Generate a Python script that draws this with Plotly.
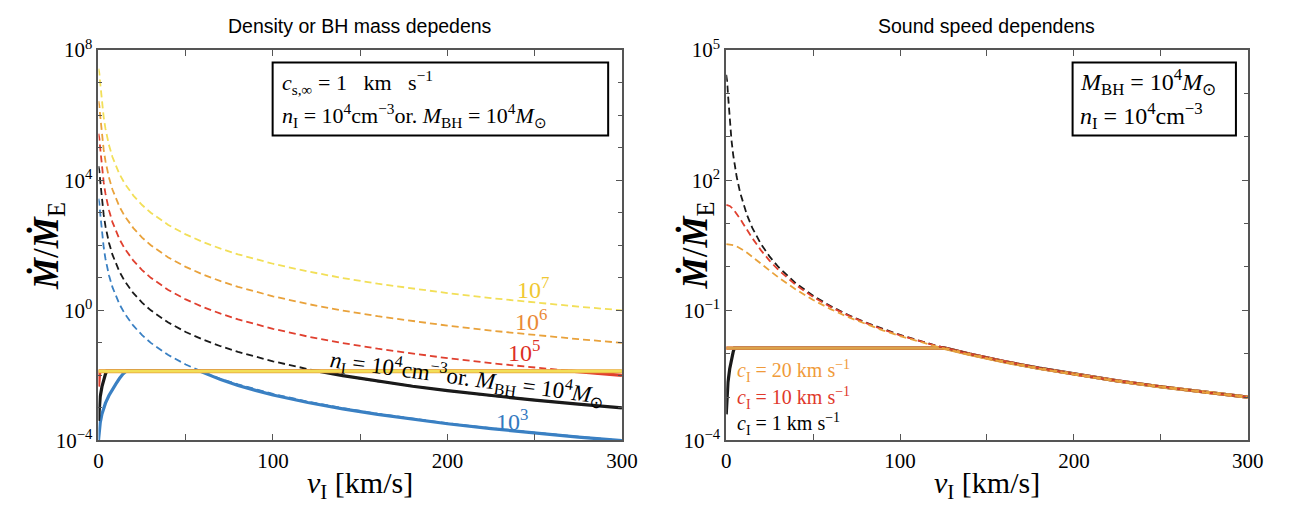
import plotly.graph_objects as go

W, H = 1309, 517

# ---------------- data: left panel (c_s,inf = 1 km/s, varying n_I or M_BH) ----------------
v_dash = [0, 0.5, 1, 1.5, 2, 3, 4, 5, 6, 8, 10, 12, 15, 20, 25, 30, 40, 50, 60, 70, 80, 90,
          100, 120, 140, 160, 180, 200, 225, 250, 275, 300]

bondi_1e7 = [2.7e7, 1.93e7, 9.55e6, 4.61e6, 2.415e6, 8.54e5, 3.85e5, 2.04e5, 1.20e5, 5.15e4,
             2.66e4, 1.546e4, 7.95e3, 3.36e3, 1.724e3, 998, 422, 216, 125, 78.7, 52.7, 37.0,
             27.0, 15.6, 9.84, 6.59, 4.63, 3.375, 2.37, 1.728, 1.298, 1.0]
bondi_1e6 = [2.7e6, 1.93e6, 9.55e5, 4.61e5, 2.415e5, 8.54e4, 3.85e4, 2.04e4, 1.20e4, 5.15e3,
             2.66e3, 1.546e3, 795, 336, 172.4, 99.8, 42.2, 21.6, 12.5, 7.87, 5.27, 3.70,
             2.70, 1.56, 0.984, 0.659, 0.463, 0.3375, 0.237, 0.1728, 0.1298, 0.10]
bondi_1e5 = [2.7e5, 1.93e5, 9.55e4, 4.61e4, 2.415e4, 8.54e3, 3.85e3, 2.04e3, 1.20e3, 515,
             266, 154.6, 79.5, 33.6, 17.24, 9.98, 4.22, 2.16, 1.25, 0.787, 0.527, 0.370,
             0.270, 0.156, 0.0984, 0.0659, 0.0463, 0.03375, 0.0237, 0.01728, 0.01298, 0.010]
bondi_1e4 = [2.7e4, 1.93e4, 9.55e3, 4.61e3, 2.415e3, 854, 385, 204, 120, 51.5,
             26.6, 15.46, 7.95, 3.36, 1.724, 0.998, 0.422, 0.216, 0.125, 0.0787, 0.0527, 0.0370,
             0.0270, 0.0156, 0.00984, 0.00659, 0.00463, 0.003375, 0.00237, 0.001728, 0.001298, 0.0010]
bondi_1e3 = [2.7e3, 1.93e3, 955, 461, 241.5, 85.4, 38.5, 20.4, 12.0, 5.15,
             2.66, 1.546, 0.795, 0.336, 0.1724, 0.0998, 0.0422, 0.0216, 0.0125, 0.00787, 0.00527,
             0.00370, 0.00270, 0.00156, 9.84e-4, 6.59e-4, 4.63e-4, 3.375e-4, 2.37e-4, 1.728e-4,
             1.298e-4, 1.0e-4]

# regulated rates (solid)
cap_v = [0, 300]
reg_1e7 = [0.0135, 0.0135]
reg_1e6 = [0.0135, 0.0135]
reg_1e5_v = [0, 0.2, 0.5, 0.8, 271, 275, 300]
reg_1e5 = [0.0045, 0.007, 0.011, 0.0135, 0.0135, 0.0130, 0.0100]
reg_1e4_v = [0, 0.5, 1, 2, 3, 4, 4.7, 126, 140, 160, 180, 200, 225, 250, 275, 300]
reg_1e4 = [4e-4, 1.2e-3, 2.2e-3, 4.5e-3, 7.5e-3, 1.1e-2, 1.35e-2, 1.35e-2, 9.84e-3, 6.59e-3,
           4.63e-3, 3.375e-3, 2.37e-3, 1.728e-3, 1.298e-3, 1.0e-3]
reg_1e3_v = [0, 0.5, 1, 2, 4, 6, 8, 10, 12, 14, 16, 58, 70, 80, 90, 100, 120, 140, 160, 180,
             200, 225, 250, 275, 300]
reg_1e3 = [1e-4, 2e-4, 3.5e-4, 6.5e-4, 1.4e-3, 2.4e-3, 3.8e-3, 5.5e-3, 8e-3, 1.1e-2, 1.35e-2,
           1.35e-2, 7.4e-3, 4.9e-3, 3.45e-3, 2.5e-3, 1.46e-3, 9.3e-4, 6.3e-4, 4.45e-4, 3.25e-4,
           2.3e-4, 1.68e-4, 1.27e-4, 0.98e-4]

# ---------------- data: right panel (M_BH = 1e4 Msun, n_I = 1e4 cm^-3) ----------------
v_snd = [0, 2, 4, 6, 8, 10, 12, 15, 20, 25, 30, 40, 50, 60, 70, 80, 90, 100, 120, 140, 160,
         180, 200, 225, 250, 275, 300]
bondi_c10 = [27.0, 25.5, 21.6, 17.0, 12.9, 9.55, 7.08, 4.61, 2.415, 1.383, 0.854, 0.385, 0.2037,
             0.120, 0.0764, 0.0515, 0.0364, 0.0266, 0.01546, 0.00976, 0.00655, 0.00461, 0.00336,
             0.002363, 0.001724, 0.001296, 0.000998]
bondi_c20 = [3.375, 3.325, 3.18, 2.966, 2.70, 2.415, 2.128, 1.728, 1.193, 0.823, 0.576, 0.302,
             0.1729, 0.1067, 0.0700, 0.0482, 0.0345, 0.02546, 0.0150, 0.00955, 0.00644, 0.004545,
             0.003325, 0.002343, 0.001712, 0.001288, 0.000993]
bondi_c1 = bondi_1e4

reg_c20_v = [0, 124.4, 140, 160, 180, 200, 225, 250, 275, 300]
reg_c20 = [0.0135, 0.0135, 0.00955, 0.00644, 0.004545, 0.003325, 0.002343, 0.001712, 0.001288,
           0.000993]
reg_c10_v = [0, 125.6, 140, 160, 180, 200, 225, 250, 275, 300]
reg_c10 = [0.0135, 0.0135, 0.00976, 0.00655, 0.00461, 0.00336, 0.002363, 0.001724, 0.001296,
           0.000998]
reg_c1_v = reg_1e4_v
reg_c1 = reg_1e4

# ---------------- styling ----------------
YEL, ORA, RED, BLK, BLU = "#f2df58", "#e9a23b", "#e0402f", "#1a1a1a", "#3a80c3"
SERIF = "Liberation Serif, Times New Roman, serif"
SANS = "Liberation Sans, Arial, sans-serif"
DASH = "7px,4px"
SP = "\u00a0"

fig = go.Figure()


def dashed(x, y, color, xa, ya):
    fig.add_trace(go.Scatter(x=x, y=y, mode="lines", xaxis=xa, yaxis=ya, showlegend=False,
                             line=dict(color=color, width=1.8, dash=DASH)))


def solid(x, y, color, xa, ya, w=3.2):
    fig.add_trace(go.Scatter(x=x, y=y, mode="lines", xaxis=xa, yaxis=ya, showlegend=False,
                             line=dict(color=color, width=w)))


# left panel
for ys, c in [(bondi_1e3, BLU), (bondi_1e4, BLK), (bondi_1e5, RED), (bondi_1e6, ORA),
              (bondi_1e7, YEL)]:
    dashed(v_dash, ys, c, "x", "y")
solid(reg_1e3_v, reg_1e3, BLU, "x", "y")
solid(reg_1e4_v, reg_1e4, BLK, "x", "y")
solid(reg_1e5_v, reg_1e5, RED, "x", "y")
solid(cap_v, reg_1e6, ORA, "x", "y", 4)
solid(cap_v, reg_1e7, YEL, "x", "y", 2.6)

# right panel
solid(reg_c1_v, reg_c1, BLK, "x2", "y2")
solid(reg_c10_v, reg_c10, RED, "x2", "y2")
solid(reg_c20_v, reg_c20, "#dca24a", "x2", "y2")
dashed(v_dash, bondi_c1, BLK, "x2", "y2")
dashed(v_snd, bondi_c10, RED, "x2", "y2")
dashed(v_snd, bondi_c20, ORA, "x2", "y2")


def px(x):
    return x / W


def py(y):
    return 1 - y / H


def sup(e):
    return "10<sup>%s</sup>" % str(e).replace("-", "\u2212")


axis_common = dict(showline=True, mirror="allticks", linecolor="#555", linewidth=2,
                   ticks="inside", ticklen=6, tickcolor="#555", showgrid=False, zeroline=False,
                   tickfont=dict(family=SERIF, size=21, color="black"))

xmin = dict(tickvals=[50, 150, 250], ticks="inside", ticklen=6, tickcolor="#555")
xkw = dict(range=[0, 300], tickvals=[0, 100, 200, 300], ticktext=["0", "100", "200", "300"],
           minor=xmin, **axis_common)

left_major = [1e-4, 1e0, 1e4, 1e8]
left_minor = [10.0 ** k for k in range(-4, 9) if k % 4 != 0]
right_major = [1e-4, 1e-1, 1e2, 1e5]
right_minor = [10.0 ** k for k in range(-4, 6) if (k + 4) % 3 != 0]

fig.update_layout(
    width=W, height=H, margin=dict(l=0, r=0, t=0, b=0),
    paper_bgcolor="white", plot_bgcolor="white",
    xaxis=dict(domain=[px(95), px(627)], anchor="y", **xkw),
    yaxis=dict(domain=[py(449), py(38)], anchor="x", type="log", range=[-4, 8],
               tickvals=left_major, ticktext=[sup(-4), sup(0), sup(4), sup(8)],
               minor=dict(tickvals=left_minor, ticks="inside", ticklen=4, tickcolor="#555"),
               **axis_common),
    xaxis2=dict(domain=[px(733), px(1263)], anchor="y2", **xkw),
    yaxis2=dict(domain=[py(449), py(38)], anchor="x2", type="log", range=[-4, 5],
                tickvals=right_major, ticktext=[sup(-4), sup(-1), sup(2), sup(5)],
                minor=dict(tickvals=right_minor, ticks="inside", ticklen=4, tickcolor="#555"),
                **axis_common),
)

ann = []


def text(x, y, s, size=20, color="black", family=SERIF, xanchor="center", angle=0):
    ann.append(dict(x=px(x), y=py(y), xref="paper", yref="paper", text=s, showarrow=False,
                    xanchor=xanchor, yanchor="middle", textangle=angle,
                    font=dict(family=family, size=size, color=color)))


# panel titles
text(361, 13, "Density or BH mass depedens", 19.5, family=SANS)
text(998, 13, "Sound speed dependens", 19.5, family=SANS)

# axis titles
mdot = "<b><i>\u1e40</i></b>/<b><i>\u1e40</i></b><sub>E</sub>"
vlab = "<i>v</i><sub>I</sub> [km/s]"
text(43, 244, mdot, 35, angle=-90)
text(703, 244, mdot, 35, angle=-90)
text(361, 496, vlab, 30)
text(998, 496, vlab, 30)

# parameter boxes
shapes = [
    dict(type="rect", xref="paper", yref="paper", x0=px(272), x1=px(613), y0=py(128), y1=py(51),
         line=dict(color="black", width=2), fillcolor="white"),
    dict(type="rect", xref="paper", yref="paper", x0=px(1085), x1=px(1251), y0=py(128),
         y1=py(51), line=dict(color="black", width=2), fillcolor="white"),
]
text(279, 72, "<i>c</i><sub>s,\u221e</sub>" + SP + "=" + SP + "1" + SP * 3 + "km" + SP * 3
     + "s<sup>\u22121</sup>", 22, xanchor="left")
text(279, 107, "<i>n</i><sub>I</sub> = 10<sup>4</sup>cm<sup>\u22123</sup>or. "
     "<i>M</i><sub>BH</sub> = 10<sup>4</sup><i>M</i><sub>\u2299</sub>", 22, xanchor="left")
text(1090, 72, "<i>M</i><sub>BH</sub> = 10<sup>4</sup><i>M</i><sub>\u2299</sub>", 24,
     xanchor="left")
text(1090, 107, "<i>n</i><sub>I</sub> = 10<sup>4</sup>cm<sup>\u22123</sup>", 24, xanchor="left")

# curve labels, left panel
text(537, 289, sup(7), 24, "#f0c832")
text(535, 322, sup(6), 24, "#ea8a35")
text(527, 355, sup(5), 24, "#dd2f24")
text(515, 427, sup(3), 24, "#3479c0")
text(470, 383, "<i>n</i><sub>I</sub> = 10<sup>4</sup>cm<sup>\u22123</sup>or. "
     "<i>M</i><sub>BH</sub> = 10<sup>4</sup><i>M</i><sub>\u2299</sub>", 23, angle=7.7)

# curve labels, right panel
km = SP + "km" + SP + "s<sup>\u22121</sup>"
text(742, 376, "<i>c</i><sub>I</sub> = 20" + km, 20, "#f09a3a", xanchor="left")
text(742, 404, "<i>c</i><sub>I</sub> = 10" + km, 20, "#e0382b", xanchor="left")
text(742, 432, "<i>c</i><sub>I</sub> = 1" + km, 20, "black", xanchor="left")

fig.update_layout(annotations=ann, shapes=shapes)
fig.write_html("out.html")
